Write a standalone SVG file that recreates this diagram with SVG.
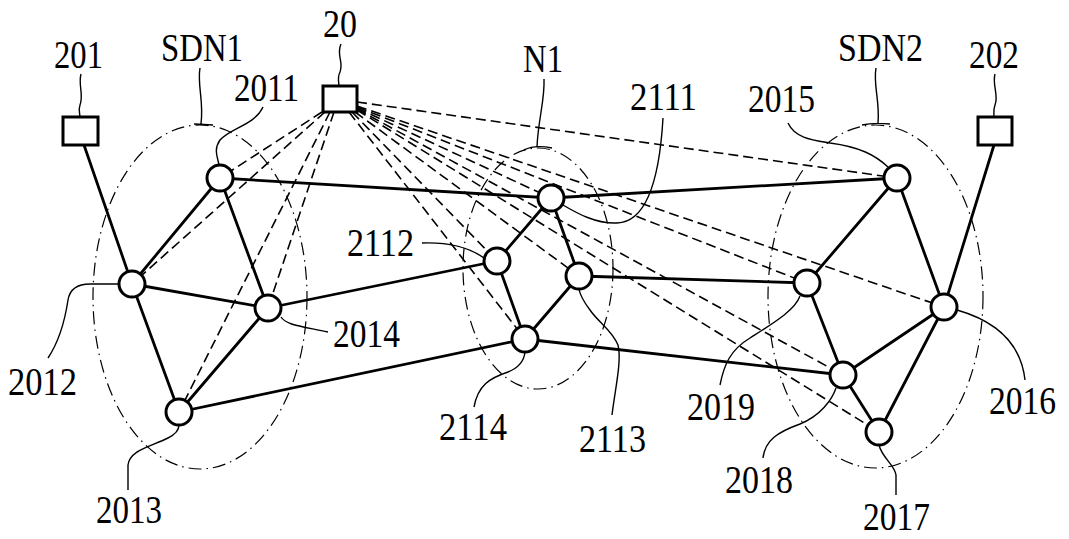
<svg xmlns="http://www.w3.org/2000/svg" width="1069" height="539" viewBox="0 0 1069 539">
<style>
.bg{fill:#fff}
.edge{stroke:#000;stroke-width:2.8;fill:none;stroke-linecap:round}
.dash{stroke:#000;stroke-width:1.6;fill:none;stroke-dasharray:10 5}
.grp{stroke:#000;stroke-width:1.2;fill:none;stroke-dasharray:13 5 1.5 5}
.lead{stroke:#000;stroke-width:1.4;fill:none}
.node{fill:#fff;stroke:#000;stroke-width:3}
.box{fill:#fff;stroke:#000;stroke-width:3}
text{font-family:"Liberation Serif","Times New Roman",serif;font-size:41px;fill:#000}
</style>
<rect class="bg" x="0" y="0" width="1069" height="539"/>

<g id="groups">
  <ellipse class="grp" cx="200" cy="297" rx="107" ry="172"/>
  <ellipse class="grp" cx="538" cy="268.5" rx="75" ry="120.5"/>
  <ellipse class="grp" cx="875.5" cy="296.5" rx="107.5" ry="171.5"/>
</g>

<g id="connectors">
  <g id="control-links">
    <line class="dash" x1="322" y1="112" x2="220" y2="178"/>
    <line class="dash" x1="325" y1="112" x2="132" y2="284"/>
    <line class="dash" x1="330" y1="112" x2="179" y2="412"/>
    <line class="dash" x1="334" y1="112" x2="268" y2="308"/>
    <line class="dash" x1="357" y1="102" x2="897" y2="178"/>
    <line class="dash" x1="357" y1="106" x2="944" y2="307"/>
    <line class="dash" x1="357" y1="107" x2="807" y2="283"/>
    <line class="dash" x1="357" y1="108" x2="551" y2="198"/>
    <line class="dash" x1="357" y1="109" x2="843" y2="375"/>
    <line class="dash" x1="357" y1="110" x2="879" y2="432"/>
    <line class="dash" x1="355" y1="112" x2="579" y2="276"/>
    <line class="dash" x1="352" y1="112" x2="497" y2="261"/>
    <line class="dash" x1="349" y1="112" x2="525" y2="339"/>
  </g>
  <g id="data-links">
    <line class="edge" x1="84" y1="145" x2="132" y2="284"/>
    <line class="edge" x1="994" y1="145" x2="944" y2="307"/>
    <line class="edge" x1="220" y1="178" x2="132" y2="284"/>
    <line class="edge" x1="220" y1="178" x2="268" y2="308"/>
    <line class="edge" x1="220" y1="178" x2="551" y2="198"/>
    <line class="edge" x1="132" y1="284" x2="268" y2="308"/>
    <line class="edge" x1="132" y1="284" x2="179" y2="412"/>
    <line class="edge" x1="179" y1="412" x2="268" y2="308"/>
    <line class="edge" x1="179" y1="412" x2="525" y2="339"/>
    <line class="edge" x1="268" y1="308" x2="497" y2="261"/>
    <line class="edge" x1="497" y1="261" x2="551" y2="198"/>
    <line class="edge" x1="551" y1="198" x2="579" y2="276"/>
    <line class="edge" x1="497" y1="261" x2="525" y2="339"/>
    <line class="edge" x1="579" y1="276" x2="525" y2="339"/>
    <line class="edge" x1="551" y1="198" x2="897" y2="178"/>
    <line class="edge" x1="579" y1="276" x2="807" y2="283"/>
    <line class="edge" x1="525" y1="339" x2="843" y2="375"/>
    <line class="edge" x1="897" y1="178" x2="807" y2="283"/>
    <line class="edge" x1="897" y1="178" x2="944" y2="307"/>
    <line class="edge" x1="807" y1="283" x2="843" y2="375"/>
    <line class="edge" x1="843" y1="375" x2="944" y2="307"/>
    <line class="edge" x1="843" y1="375" x2="879" y2="432"/>
    <line class="edge" x1="879" y1="432" x2="944" y2="307"/>
  </g>
  <g id="leaders">
    <path class="lead" d="M341,44 C 336,55 344,62 340,72 C 337,78 339,83 339,86"/>
    <path class="lead" d="M81,74 C 78,85 84,95 80,105 C 78,110 80,114 80,117"/>
    <path class="lead" d="M995,74 C 992,85 999,95 995,105 C 993,110 994,114 994,117"/>
    <path class="lead" d="M200,68 C 197,85 204,100 201,124 M194,124 L213,125"/>
    <path class="lead" d="M544,79 C 545,100 538,120 537,147 M524,150 C 532,146 542,146 552,148"/>
    <path class="lead" d="M876,68 C 873,85 880,100 878,123 M862,125 C 870,123 880,123 890,124"/>
    <path class="lead" d="M263,107 C 255,125 230,128 220,140 C 213,150 218,158 219,165"/>
    <path class="lead" d="M663,118 C 660,170 650,222 617,223 C 595,224 575,212 563,205"/>
    <path class="lead" d="M788,123 C 795,138 812,140 830,143 C 860,147 875,155 888,167"/>
    <path class="lead" d="M422,243 C 450,242 470,248 484,258"/>
    <path class="lead" d="M48,358 C 60,340 65,320 68,300 C 70,288 78,284 90,284 L 119,284"/>
    <path class="lead" d="M281,317 C 286,325 300,326 328,332"/>
    <path class="lead" d="M128,490 L128,465 C 130,450 150,447 168,438 C 176,434 179,430 179,425"/>
    <path class="lead" d="M474,407 C 478,385 490,378 508,372 C 518,368 524,362 525,352"/>
    <path class="lead" d="M612,415 C 615,390 622,360 618,345 C 612,330 598,322 590,310 C 584,302 580,296 579,289"/>
    <path class="lead" d="M720,385 C 724,365 730,350 750,338 C 775,322 795,310 800,296"/>
    <path class="lead" d="M763,458 C 765,440 778,432 800,424 C 820,416 832,400 836,388"/>
    <path class="lead" d="M957,310 C 985,318 1020,335 1025,380"/>
    <path class="lead" d="M879,445 C 882,458 895,465 896,475 L 896,495"/>
  </g>
</g>

<g id="n20"><rect class="box" x="323" y="86" width="34" height="26"/><text x="323" y="37" textLength="34" lengthAdjust="spacingAndGlyphs">20</text></g>
<g id="n201"><rect class="box" x="63" y="117" width="35" height="28"/><text x="54" y="68" textLength="49" lengthAdjust="spacingAndGlyphs">201</text></g>
<g id="n202"><rect class="box" x="978" y="117" width="34" height="28"/><text x="969" y="68" textLength="50" lengthAdjust="spacingAndGlyphs">202</text></g>
<g id="SDN1"><text x="161" y="61" textLength="82" lengthAdjust="spacingAndGlyphs">SDN1</text></g>
<g id="N1"><text x="523" y="72" textLength="40" lengthAdjust="spacingAndGlyphs">N1</text></g>
<g id="SDN2"><text x="838" y="61" textLength="85" lengthAdjust="spacingAndGlyphs">SDN2</text></g>

<g id="n2011"><circle class="node" cx="220" cy="178" r="13"/><text x="234" y="101" textLength="65" lengthAdjust="spacingAndGlyphs">2011</text></g>
<g id="n2012"><circle class="node" cx="132" cy="284" r="13"/><text x="8" y="395" textLength="69" lengthAdjust="spacingAndGlyphs">2012</text></g>
<g id="n2013"><circle class="node" cx="179" cy="412" r="13"/><text x="96" y="523" textLength="66" lengthAdjust="spacingAndGlyphs">2013</text></g>
<g id="n2014"><circle class="node" cx="268" cy="308" r="13"/><text x="333" y="347" textLength="67" lengthAdjust="spacingAndGlyphs">2014</text></g>
<g id="n2111"><circle class="node" cx="551" cy="198" r="13"/><text x="630" y="110" textLength="67" lengthAdjust="spacingAndGlyphs">2111</text></g>
<g id="n2112"><circle class="node" cx="497" cy="261" r="13"/><text x="347" y="256" textLength="67" lengthAdjust="spacingAndGlyphs">2112</text></g>
<g id="n2113"><circle class="node" cx="579" cy="276" r="13"/><text x="579" y="452" textLength="67" lengthAdjust="spacingAndGlyphs">2113</text></g>
<g id="n2114"><circle class="node" cx="525" cy="339" r="13"/><text x="439" y="440" textLength="68" lengthAdjust="spacingAndGlyphs">2114</text></g>
<g id="n2015"><circle class="node" cx="897" cy="178" r="13"/><text x="748" y="112" textLength="67" lengthAdjust="spacingAndGlyphs">2015</text></g>
<g id="n2016"><circle class="node" cx="944" cy="307" r="13"/><text x="989" y="414" textLength="67" lengthAdjust="spacingAndGlyphs">2016</text></g>
<g id="n2017"><circle class="node" cx="879" cy="432" r="13"/><text x="863" y="530" textLength="67" lengthAdjust="spacingAndGlyphs">2017</text></g>
<g id="n2018"><circle class="node" cx="843" cy="375" r="13"/><text x="725" y="493" textLength="68" lengthAdjust="spacingAndGlyphs">2018</text></g>
<g id="n2019"><circle class="node" cx="807" cy="283" r="13"/><text x="687" y="420" textLength="68" lengthAdjust="spacingAndGlyphs">2019</text></g>
</svg>
